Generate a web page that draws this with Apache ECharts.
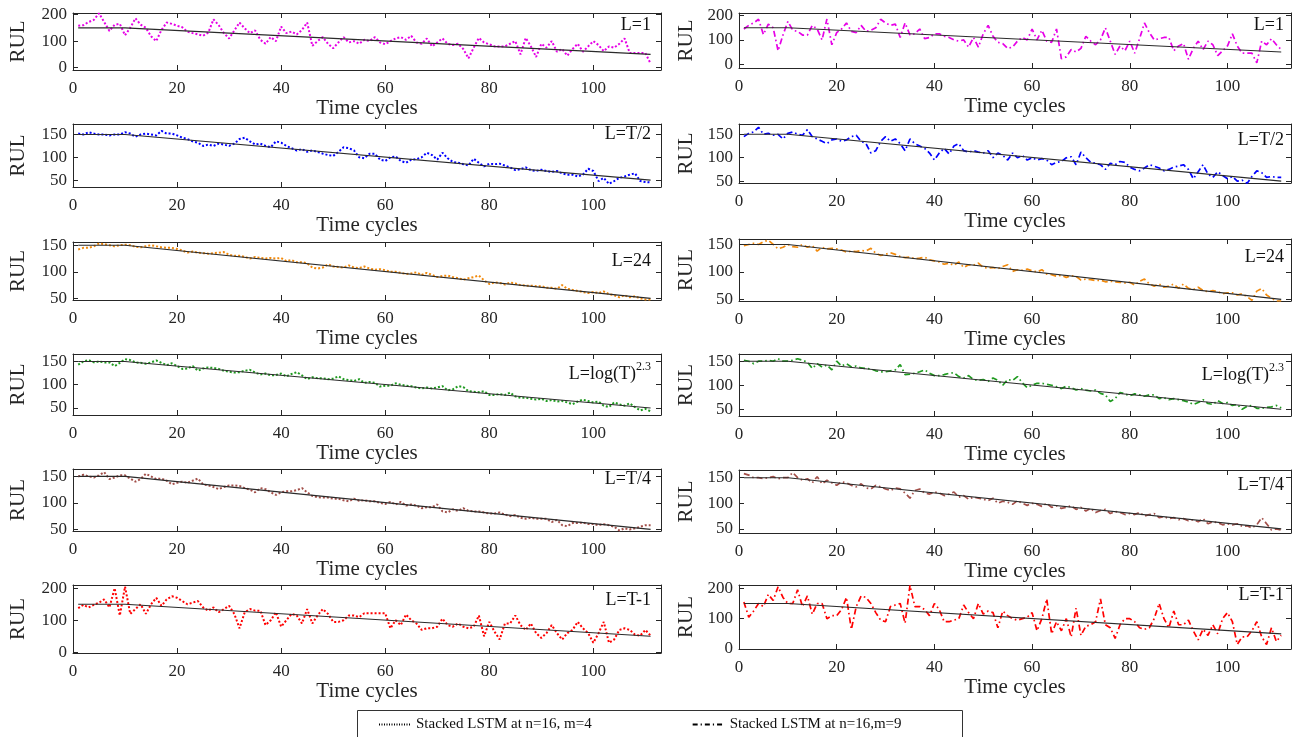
<!DOCTYPE html>
<html><head><meta charset="utf-8">
<script src="https://cdn.jsdelivr.net/npm/echarts@6/dist/echarts.min.js"></script>
<style>html,body{margin:0;padding:0;background:#fff}#c{width:1301px;height:737px}</style>
</head><body><div id="c"></div>
<script>
// ---------------- data ----------------
const xTickValues = [0, 20, 40, 60, 80, 100];
const yTicksWide = [0, 100, 200];
const yTicksNarrow = [50, 100, 150];
const trueCycles = [1, 10, 111];
const trueRUL = [150, 150, 50];
const panelLabels = ['L=1', 'L=T/2', 'L=24', 'L=log(T)|2.3', 'L=T/4', 'L=T-1'];
const seriesNames = ['Stacked LSTM at n=16, m=4', 'Stacked LSTM at n=16,m=9'];

const m4_L1 = [158,160,172,180,205,172,138,162,165,122,
150,186,162,150,118,100,142,170,165,158,
152,135,130,125,120,132,182,160,130,110,
140,170,148,130,140,105,90,115,100,155,
130,136,125,142,170,82,100,115,90,73,
95,115,95,100,90,105,100,115,95,88,
100,110,115,105,120,95,90,110,80,95,
110,90,85,90,70,35,75,112,95,88,
80,80,80,90,100,50,112,80,40,90,
75,100,60,70,45,70,90,60,80,100,
85,62,80,75,90,110,55,55,55,55,
15];
const m9_L1 = [145,160,170,185,122,165,150,55,120,176,
140,135,120,120,160,145,100,186,80,130,
145,170,135,130,160,135,140,150,185,170,
160,165,110,170,120,125,145,105,110,125,
125,115,110,100,95,100,70,110,70,125,
160,115,90,85,65,70,95,110,100,145,
100,140,95,90,145,22,30,60,50,65,
115,95,80,100,150,95,40,75,55,95,
45,105,170,130,100,105,110,110,55,75,
85,20,65,95,60,95,80,35,55,75,
125,75,45,45,45,5,95,80,105,80,
60];
const m4_LT2 = [152,150,155,152,150,150,148,150,150,155,
152,145,150,152,150,148,158,152,152,148,
143,140,135,132,125,128,125,130,128,125,
130,140,143,135,128,130,125,122,135,132,
125,120,115,118,112,115,112,108,105,103,
112,122,120,115,100,98,108,108,95,92,
100,102,92,88,95,96,100,110,105,95,
110,98,90,88,85,82,97,88,80,86,
85,86,82,78,72,74,78,72,70,73,
70,68,70,65,62,62,58,62,75,70,
48,55,42,48,55,58,62,65,48,46,
45];
const m9_LT2 = [145,152,155,165,150,152,148,150,140,152,
155,150,148,160,145,140,135,130,138,140,
135,138,145,148,135,130,110,115,135,145,
135,140,130,115,140,130,125,120,110,95,
110,120,108,125,130,115,112,115,112,110,
115,100,110,105,95,110,100,105,95,100,
95,98,95,85,90,92,100,102,85,112,
100,90,88,85,75,88,85,92,90,80,
75,72,78,85,82,78,72,75,80,82,
85,75,55,70,85,65,58,70,62,55,
60,50,52,45,60,72,68,58,60,58,
58];
const m4_L24 = [142,145,145,148,153,152,150,148,150,151,
150,147,146,148,150,148,146,145,145,143,
140,136,138,136,135,134,135,136,137,132,
130,130,128,125,128,126,125,126,125,126,
120,122,118,118,116,108,106,108,114,110,
109,108,112,108,107,110,106,104,105,103,
100,100,98,96,97,99,94,98,94,90,
92,93,90,88,85,88,90,93,84,77,
80,79,76,80,78,75,74,74,73,73,
70,70,68,75,68,66,64,62,60,62,
60,63,58,56,52,56,52,54,50,48,
48];
const m9_L24 = [148,150,152,150,155,158,150,142,145,150,
146,145,150,145,148,138,145,142,143,142,
140,136,138,137,139,138,143,134,130,132,
135,132,128,126,127,124,125,127,122,120,
118,114,116,112,118,108,113,112,116,108,
107,108,106,110,113,101,104,103,105,102,
100,104,96,95,92,94,90,93,92,85,
87,86,84,85,82,83,82,81,80,81,
76,83,87,78,74,78,72,74,78,70,
78,70,68,72,66,64,66,64,60,62,
62,58,60,55,48,65,70,58,52,47,
47];
const m4_Llog = [143,150,153,148,150,148,148,140,147,155,
153,148,147,145,148,152,147,142,146,140,
134,135,140,130,135,137,136,134,130,128,
126,127,130,132,126,122,124,120,121,124,
118,123,127,120,112,116,114,114,112,113,
118,112,110,108,112,104,106,104,96,98,
98,103,100,98,97,94,92,94,92,94,
97,88,90,97,95,86,85,84,86,78,
78,80,78,83,75,72,72,70,68,70,
65,67,64,65,62,58,64,68,65,62,
64,55,52,62,58,55,60,52,45,48,
43];
const m9_Llog = [152,150,145,150,150,152,150,155,150,150,
152,155,152,148,135,145,138,142,132,150,
140,145,138,140,136,135,134,130,128,128,
130,132,143,122,123,125,128,132,125,120,
120,122,125,126,118,115,120,112,110,112,
108,115,110,100,112,110,118,105,95,100,
104,104,102,100,97,93,98,95,90,93,
90,88,90,83,80,66,72,85,82,78,
82,80,77,80,80,72,74,70,72,70,
68,65,60,64,70,62,60,68,62,64,
58,60,50,56,58,52,52,54,55,58,
53];
const m4_LT4 = [150,153,150,148,152,158,145,148,152,152,
146,140,145,155,150,145,146,142,135,138,
140,138,142,146,135,133,130,126,130,133,
133,132,128,125,120,128,126,120,115,120,
122,122,124,128,120,113,111,110,110,108,
108,105,103,108,104,105,103,103,100,98,
102,97,102,95,97,95,90,92,92,97,
84,82,88,85,90,85,84,84,82,80,
80,82,78,75,77,72,70,72,70,70,
70,64,68,58,56,62,62,63,60,60,
58,60,58,55,48,52,50,52,55,58,
58];
const m9_LT4 = [158,155,150,150,148,150,152,148,150,150,
160,150,145,148,140,152,138,145,140,135,
142,140,135,132,138,130,128,135,132,128,
125,130,128,120,110,125,128,120,118,122,
120,115,118,122,112,115,108,112,110,108,
105,110,100,104,102,98,105,100,96,100,
98,94,100,92,95,90,92,95,88,92,
85,90,82,86,88,80,84,82,78,80,
78,82,75,78,80,72,74,70,72,68,
70,66,68,64,70,60,64,62,58,60,
58,60,55,56,52,58,72,60,48,50,
48];
const m4_LT1 = [138,148,140,148,155,165,140,200,115,205,
120,135,150,120,150,170,145,165,175,170,
160,150,155,160,140,130,140,125,135,145,
120,75,125,135,130,130,85,100,125,80,
100,120,115,90,135,90,115,135,120,95,
95,100,115,115,110,122,122,122,122,122,
75,100,85,118,100,90,70,75,75,80,
105,85,80,90,80,75,80,115,50,95,
65,40,90,90,115,85,70,90,60,45,
60,85,60,40,60,70,95,75,60,30,
60,95,30,40,70,75,70,55,52,70,
52];
const m9_LT1 = [155,105,125,150,140,180,160,205,170,150,
150,195,140,175,115,150,150,100,110,110,
130,170,65,140,175,170,150,120,95,90,
140,145,150,85,210,140,140,130,110,150,
130,90,90,95,100,145,120,100,150,115,
125,120,70,125,110,100,95,100,105,120,
60,100,165,50,90,60,100,40,135,45,
75,80,90,165,80,70,35,80,100,100,
90,70,65,70,100,150,100,70,125,80,
80,95,60,30,65,45,80,50,100,120,
90,15,40,40,60,90,40,15,70,25,
45];

const predictions = [[m4_L1, m9_L1], [m4_LT2, m9_LT2], [m4_L24, m9_L24],
                     [m4_Llog, m9_Llog], [m4_LT4, m9_LT4], [m4_LT1, m9_LT1]];

// ---------------- layout / style ----------------
const FONT = '"Liberation Serif", "Times New Roman", serif';
const rowColors = ['#e600e6', '#0000ff', '#f28a0c', '#1f9a1f', '#a24e48', '#ff0000'];
const colLeft = [73, 739], colWidth = [588, 552];
const rowBox = [[[13,70],[13,68]], [[124,187],[124,183]], [[242,300],[239,301]],
                [[354,415],[354,416]], [[469,531],[470,533]], [[585,653],[585,649]]];
const yRange = [[[-9,206],[-16,211]], [[35,173],[46,172]], [[47,156],[47,160]],
                [[35,166],[36,165]], [[47,164],[42,165]], [[-2,210],[0,211]]];
const labelCenter = [[25,25],[134,140],[261,257],[374,375],[479,485],[600,595]];
const labelRight = [650, 17];
const lineTypes = [[2, 2], [6, 3, 1.6, 3]];
const lineWidths = [2, 1.7];
const AX = '#262626';

const grids = [], xAxes = [], yAxes = [], series = [], titles = [];
const xMax = 113;
for (let r = 0; r < 6; r++) {
  for (let c = 0; c < 2; c++) {
    const gi = grids.length;
    const [t, b] = rowBox[r][c];
    grids.push({left: colLeft[c], top: t, width: colWidth[c], height: b - t,
                containLabel: false, outerBoundsMode: 'none'});
    const yt = (r === 0 || r === 5) ? yTicksWide : yTicksNarrow;
    const common = {type: 'value', gridIndex: gi, splitLine: {show: false},
      axisLine: {show: true, onZero: false, lineStyle: {color: AX, width: 1}},
      axisTick: {show: true, inside: true, length: 5, lineStyle: {color: AX}}};
    xAxes.push(Object.assign({}, common, {position: 'bottom', min: 0, max: xMax,
      axisTick: Object.assign({}, common.axisTick, {customValues: xTickValues}),
      axisLabel: {customValues: xTickValues, margin: 10, color: AX, fontFamily: FONT, fontSize: 17},
      name: 'Time cycles', nameLocation: 'middle', nameGap: 28,
      nameTextStyle: {fontFamily: FONT, fontSize: 21, color: AX}}));
    xAxes.push(Object.assign({}, common, {position: 'top', min: 0, max: xMax,
      axisTick: Object.assign({}, common.axisTick, {customValues: xTickValues}),
      axisLabel: {show: false}}));
    yAxes.push(Object.assign({}, common, {position: 'left', min: yRange[r][c][0], max: yRange[r][c][1],
      axisTick: Object.assign({}, common.axisTick, {customValues: yt}),
      axisLabel: {customValues: yt, margin: 6, color: AX, fontFamily: FONT, fontSize: 17},
      name: 'RUL', nameLocation: 'middle', nameRotate: 90, nameGap: c === 0 ? 44 : 42,
      nameTextStyle: {fontFamily: FONT, fontSize: 21, color: AX}}));
    yAxes.push(Object.assign({}, common, {position: 'right', min: yRange[r][c][0], max: yRange[r][c][1],
      axisTick: Object.assign({}, common.axisTick, {customValues: yt}),
      axisLabel: {show: false}}));

    const vals = predictions[r][c];
    series.push({type: 'line', xAxisIndex: 2 * gi, yAxisIndex: 2 * gi,
      data: vals.map((v, i) => [i + 1, v]), symbol: 'none', silent: true,
      lineStyle: {color: rowColors[r], width: lineWidths[c], type: lineTypes[c]}, z: 2});
    series.push({type: 'line', xAxisIndex: 2 * gi, yAxisIndex: 2 * gi,
      data: trueCycles.map((x, i) => [x, trueRUL[i]]), symbol: 'none', silent: true,
      lineStyle: {color: '#2b2b2b', width: 1.1}, z: 3});

    const parts = panelLabels[r].split('|');
    const txt = parts.length > 1 ? '{a|' + parts[0] + '}{b|' + parts[1] + '}' : '{a|' + parts[0] + '}';
    titles.push({text: txt, right: labelRight[c], top: labelCenter[r][c] - 13, padding: 0,
      textStyle: {fontWeight: 'normal', rich: {
        a: {fontFamily: FONT, fontSize: 18, fontWeight: 'normal', color: '#111', lineHeight: 26, verticalAlign: 'middle'},
        b: {fontFamily: FONT, fontSize: 12, fontWeight: 'normal', color: '#111', lineHeight: 26, verticalAlign: 'top'}}}});
  }
}
// legend-only series
seriesNames.forEach((n, k) => {
  series.push({type: 'line', name: n, data: [], symbol: 'none', xAxisIndex: 0, yAxisIndex: 0,
    lineStyle: {color: '#000', width: 1.2, type: k === 0 ? [1, 1.5] : [5, 3, 1.2, 3]},
    itemStyle: {color: '#000'}});
});

const chart = echarts.init(document.getElementById('c'), null, {renderer: 'canvas'});
chart.setOption({
  animation: false,
  backgroundColor: '#fff',
  title: titles,
  grid: grids, xAxis: xAxes, yAxis: yAxes, series: series,
  legend: {data: seriesNames, left: 378, top: 717, itemWidth: 32, itemHeight: 10, itemGap: 100,
    padding: 0, selectedMode: false, itemStyle: {opacity: 0},
    textStyle: {fontFamily: FONT, fontSize: 15, color: '#111'}},
  graphic: [{type: 'rect', left: 355, top: 708, shape: {width: 605, height: 40},
    style: {fill: 'none', stroke: '#333', lineWidth: 1}, silent: true}]
});
</script></body></html>
